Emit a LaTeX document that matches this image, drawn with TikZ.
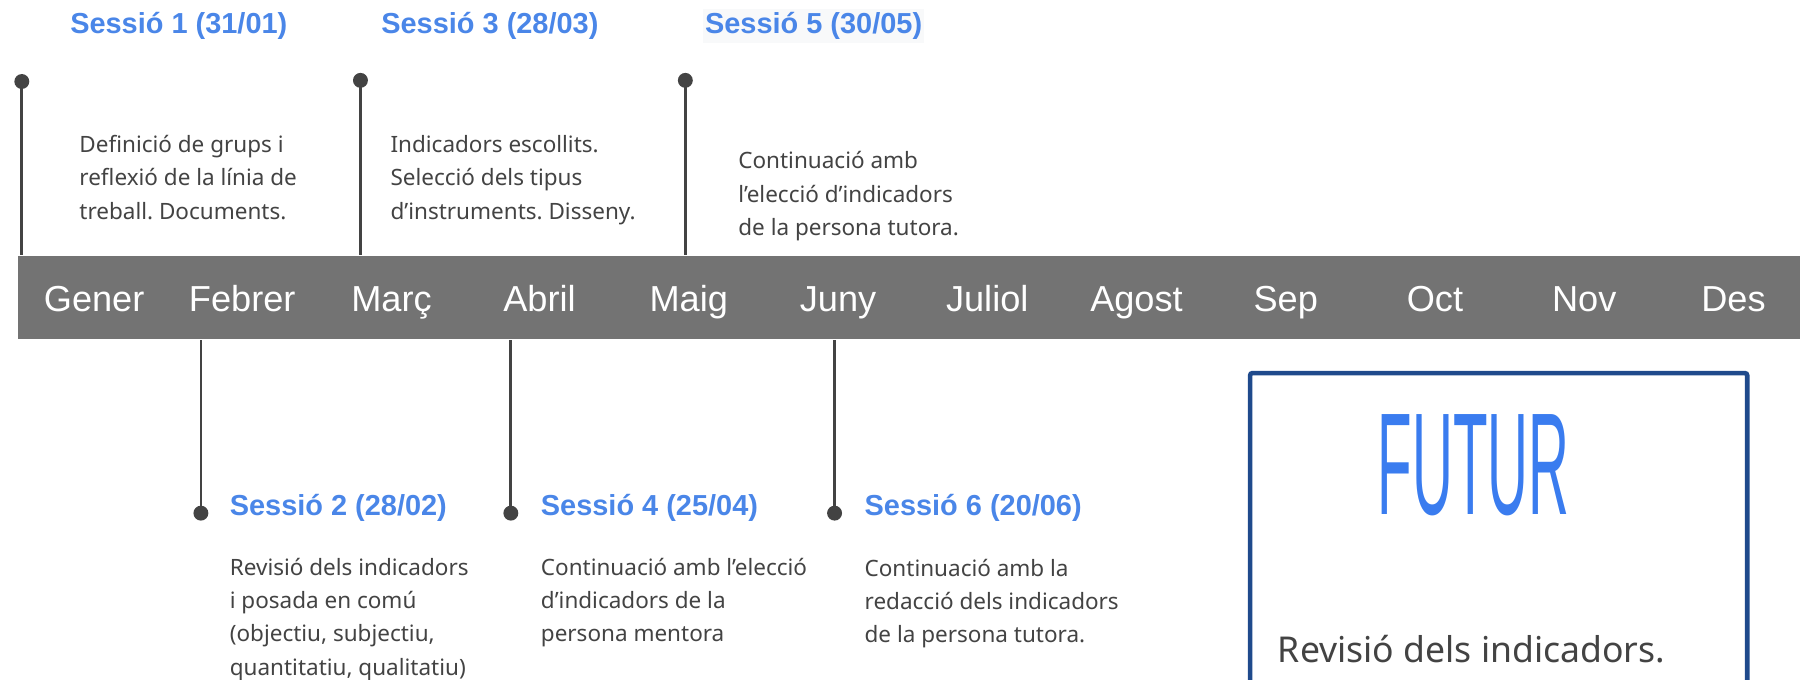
\documentclass[tikz,border=0pt]{standalone}
\usepackage{fontspec}
\setmainfont{Noto Sans}
\newfontfamily\monthfont{Liberation Sans}
\newfontfamily\titlefont{Liberation Sans}
\definecolor{bargray}{HTML}{737373}
\definecolor{stemgray}{HTML}{434343}
\definecolor{titleblue}{HTML}{4A86E8}
\definecolor{boxblue}{HTML}{1F4A8C}
\definecolor{futurblue}{HTML}{3A7CEF}
\definecolor{bodygray}{HTML}{434343}
\definecolor{hlgray}{HTML}{F8F9FA}
\begin{document}
\frenchspacing
\begin{tikzpicture}[x=1pt,y=-1pt,
  dot/.style={circle,fill=stemgray,inner sep=0pt,minimum size=13pt},
  stem/.style={draw=stemgray,line width=2.4pt},
  month/.style={anchor=base,text=white,font=\monthfont\fontsize{31.5}{31.5}\selectfont,inner sep=0pt},
  title/.style={anchor=base west,text=titleblue,font=\titlefont\bfseries\fontsize{25.2}{25.2}\selectfont,inner sep=0pt},
  body/.style={anchor=base west,text=bodygray,font=\fontsize{19.6}{29}\selectfont,inner sep=0pt}]
\clip (0,0) rectangle (1568,592);
% timeline bar
\node[fill=bargray,minimum width=1553pt,minimum height=73pt,anchor=north west,inner sep=0pt] (bar) at (15.5,222.5) {};
\foreach \x/\m [count=\i] in {82/Gener,211/Febrer,341/Març,470/Abril,600/Maig,730/Juny,860/Juliol,990/Agost,1120/Sep,1250/Oct,1380/Nov,1510/Des}
  \node[month] (m\i) at (\x,271) {\m};
% dots
\node[dot] (d1) at (19,71) {};
\node[dot] (d3) at (314,70) {};
\node[dot] (d5) at (597,70) {};
\node[dot] (d2) at (175,447) {};
\node[dot] (d4) at (445,447) {};
\node[dot] (d6) at (727,447) {};
\foreach \d in {d1,d3,d5} \draw[stem] (\d.center) -- (\d.center |- bar.north);
\foreach \d in {d2,d4,d6} \draw[stem] (\d.center) -- (\d.center |- bar.south);
% titles
\node[title] (t1) at (61,29) {Sessió 1 (31/01)};
\node[title] (t3) at (332,29) {Sessió 3 (28/03)};
\node[title,fill=hlgray,inner xsep=2pt,inner ysep=3pt] (t5) at (612,29) {Sessió 5 (30/05)};
\node[title] (t2) at (200,449) {Sessió 2 (28/02)};
\node[title] (t4) at (471,449) {Sessió 4 (25/04)};
\node[title] (t6) at (753,449) {Sessió 6 (20/06)};
% bodies
\node[body] (b1) at (69,133) {\parbox[t]{260pt}{\raggedright Definició de grups i\\reflexió de la línia de\\treball. Documents.}};
\node[body] (b3) at (340,133) {\parbox[t]{260pt}{\raggedright Indicadors escollits.\\Selecció dels tipus\\d’instruments. Disseny.}};
\node[body] (b5) at (643,147) {\parbox[t]{260pt}{\raggedright Continuació amb\\l’elecció d’indicadors\\de la persona tutora.}};
\node[body] (b2) at (200,501) {\parbox[t]{260pt}{\raggedright Revisió dels indicadors\\i posada en comú\\(objectiu, subjectiu,\\quantitatiu, qualitatiu)}};
\node[body] (b4) at (471,501) {\parbox[t]{260pt}{\raggedright Continuació amb l’elecció\\d’indicadors de la\\persona mentora}};
\node[body] (b6) at (753,502) {\parbox[t]{260pt}{\raggedright Continuació amb la\\redacció dels indicadors\\de la persona tutora.}};
% future box
\node[draw=boxblue,line width=4pt,rounded corners=2pt,minimum width=433pt,minimum height=300pt,anchor=north west,inner sep=0pt] (futbox) at (1087,323) {};
\node[anchor=south west,inner sep=0pt,text=futurblue] (futur) at (1200,450) {\resizebox{167pt}{87pt}{\monthfont FUTUR}};
\node[anchor=base west,text=bodygray,font=\fontsize{31}{31}\selectfont,inner sep=0pt] (rev) at (1113,577) {Revisió dels indicadors.};
\end{tikzpicture}
\end{document}
